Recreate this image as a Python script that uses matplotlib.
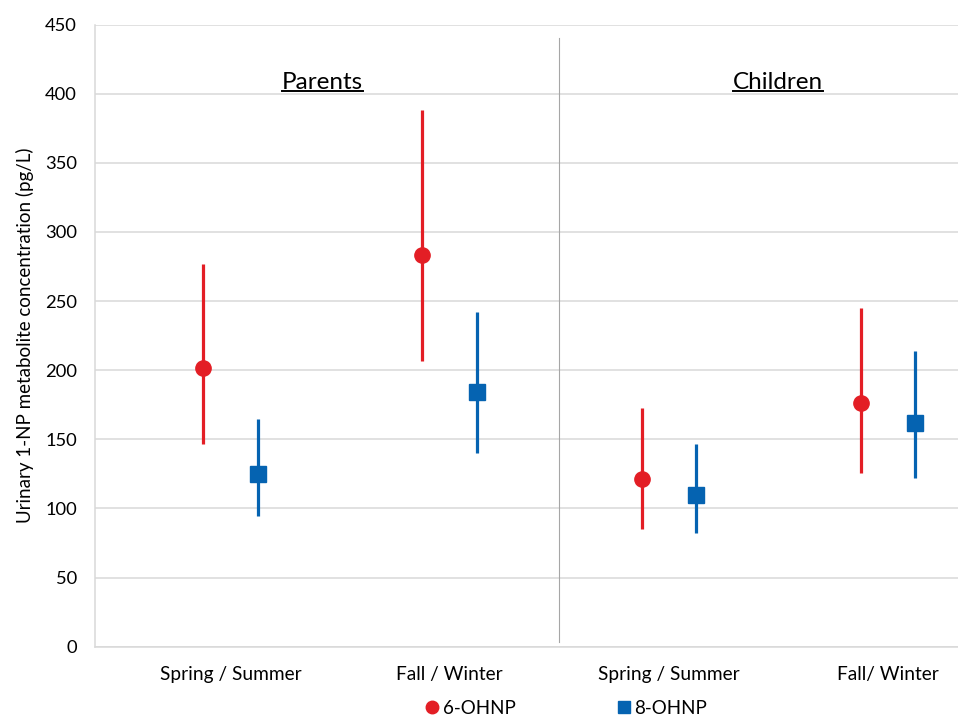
import matplotlib
matplotlib.use("Agg")
import matplotlib.pyplot as plt
from matplotlib.lines import Line2D
import numpy as np

plt.rcParams['font.family'] = ['Lato', 'DejaVu Sans']

categories = ["Spring / Summer", "Fall / Winter", "Spring / Summer", "Fall/ Winter"]
groups = ["Parents", "Children"]

ohnp6_val = [201.8, 283.3, 121.3, 176.0]
ohnp6_low = [146.6, 206.6, 84.9, 125.9]
ohnp6_high = [276.8, 388.0, 172.9, 245.0]

ohnp8_val = [124.9, 184.4, 109.7, 162.0]
ohnp8_low = [94.7, 140.0, 82.0, 122.2]
ohnp8_high = [164.5, 242.3, 146.6, 214.1]

yticks = [0, 50, 100, 150, 200, 250, 300, 350, 400, 450]

RED = "#E31E25"
BLUE = "#0563B1"
GRID = "#D9D9D9"

fig = plt.figure(figsize=(9.58, 7.18), dpi=100)
ax = fig.add_axes([95/958, 1-646.7/718, (958-95)/958, (646.7-24.5)/718])

x = np.arange(len(categories))
off = 0.1245

def errs(v, lo, hi):
    v = np.array(v); lo = np.array(lo); hi = np.array(hi)
    return np.vstack([v - lo, hi - v])

ax.errorbar(x - off, ohnp6_val, yerr=errs(ohnp6_val, ohnp6_low, ohnp6_high),
            fmt='o', color=RED, ecolor=RED, elinewidth=2.3, capsize=0,
            markersize=11, zorder=3)
ax.errorbar(x + off, ohnp8_val, yerr=errs(ohnp8_val, ohnp8_low, ohnp8_high),
            fmt='s', color=BLUE, ecolor=BLUE, elinewidth=2.3, capsize=0,
            markersize=11, zorder=3)

ax.set_ylim(0, 450)
ax.set_xlim(-0.6185, 3.3185)
ax.set_yticks(yticks)
ax.set_xticks(x)
ax.set_xticklabels(categories)
ax.yaxis.grid(True, color=GRID, linewidth=1.1)
ax.set_axisbelow(True)
ax.tick_params(axis='y', length=0, labelsize=13.2, colors='#000000', pad=13)
ax.tick_params(axis='x', length=0, labelsize=13.8, colors='#000000', pad=14)
for s in ['top', 'right']:
    ax.spines[s].set_visible(False)
for s in ['left', 'bottom']:
    ax.spines[s].set_color(GRID)
    ax.spines[s].set_linewidth(1.1)

# divider between groups
ax.plot([1.5, 1.5], [3.4, 440], color="#A6A6A6", linewidth=0.8, zorder=1)

ax.text(0.418, 408, groups[0], ha='center', va='center', fontsize=17.5,
        color='#000000')
ax.text(2.496, 408, groups[1], ha='center', va='center', fontsize=17.5,
        color='#000000')

ax.set_ylabel("Urinary 1-NP metabolite concentration (pg/L)", fontsize=13.5,
              labelpad=8)

fig.canvas.draw()
r = fig.canvas.get_renderer()
inv = fig.transFigure.inverted()
for t in ax.texts:
    bb = t.get_window_extent(renderer=r)
    (x0, y0), (x1, y1) = inv.transform([(bb.x0, bb.y0), (bb.x1, bb.y1)])
    uy = y0 + (y1 - y0) * 0.10
    fig.add_artist(Line2D([x0, x1], [uy, uy], color='#000000', linewidth=1.4,
                          transform=fig.transFigure))

handles = [Line2D([], [], marker='o', color=RED, linestyle='none', markersize=9),
           Line2D([], [], marker='s', color=BLUE, linestyle='none', markersize=9)]
fig.legend(handles, ["6-OHNP", "8-OHNP"], loc='lower center',
           bbox_to_anchor=(566/958, -0.022), ncol=2, frameon=False,
           fontsize=13.5, handletextpad=0.15, columnspacing=5.4, handlelength=0.8)

fig.savefig("out.png", dpi=100)
